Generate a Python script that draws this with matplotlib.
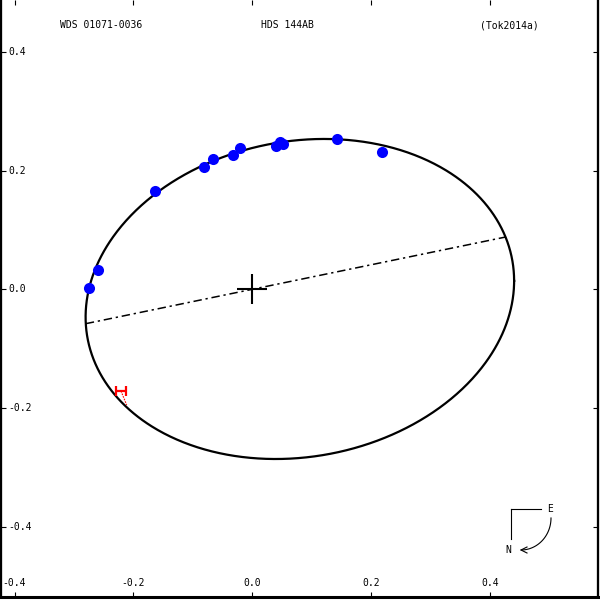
import numpy as np
import matplotlib
matplotlib.use("Agg")
import matplotlib.pyplot as plt
import matplotlib.transforms as mtransforms
from matplotlib.path import Path

# ---- data ----
title_left = "WDS 01071-0036"
title_mid = "HDS 144AB"
title_right = "(Tok2014a)"

xticks = [-0.4, -0.2, 0.0, 0.2, 0.4]
yticks = [-0.4, -0.2, 0.0, 0.2, 0.4]
xtick_labels = ["-0.4", "-0.2", "0.0", "0.2", "0.4"]
ytick_labels = ["-0.4", "-0.2", "0.0", "0.2", "0.4"]

# apparent orbit ellipse (relative to primary at origin)
ell_cx, ell_cy = 0.080, -0.0163
ell_X, ell_Y = 0.3604, 0.2694
ell_phi_deg = 83.5
node_slope = 0.2066

obs_x = [-0.275, -0.260, -0.1637, -0.0812, -0.0656, -0.033, -0.0202,
         0.0399, 0.0466, 0.0521, 0.1425, 0.2182]
obs_y = [0.002, 0.0325, 0.166, 0.2054, 0.2189, 0.2266, 0.2374,
         0.2412, 0.248, 0.2446, 0.2527, 0.2316]

h_x, h_y = [-0.2209], [-0.1712]
h_pred_x, h_pred_y = [-0.2113], [-0.1948]

# ---- figure ----
fig = plt.figure(figsize=(6, 6), dpi=100)
ax = fig.add_axes([1.1 / 600, 2.7 / 600, 596.7 / 600, 597.3 / 600])
ax.set_xlim(-0.42254, 0.58116)
ax.set_ylim(-0.51852, 0.48704)
for s in ["left", "right"]:
    ax.spines[s].set_linewidth(1.65)
ax.spines["bottom"].set_linewidth(2.2)
ax.spines["top"].set_visible(False)

ax.set_xticks(xticks)
ax.set_yticks(yticks)
ax.set_xticklabels([])
ax.set_yticklabels([])
ax.tick_params(direction="in", length=3.6, width=0.8, top=True, right=True,
               bottom=True, left=True)

mono = "DejaVu Sans Mono"
fs = 7
trans_x = mtransforms.blended_transform_factory(ax.transData, ax.transAxes)
trans_y = mtransforms.blended_transform_factory(ax.transAxes, ax.transData)
for v, lab in zip(xticks, xtick_labels):
    ax.text(v, 0.0239, lab, transform=trans_x, ha="center", va="center",
            fontsize=fs, family=mono)
for v, lab in zip(yticks, ytick_labels):
    ax.text(0.0116, v, lab, transform=trans_y, ha="left", va="center",
            fontsize=fs, family=mono)

ax.text(0.1683, 0.958, title_left, transform=ax.transAxes, ha="center",
        va="center", fontsize=fs, family=mono)
ax.text(0.4791, 0.958, title_mid, transform=ax.transAxes, ha="center",
        va="center", fontsize=fs, family=mono)
ax.text(0.8512, 0.958, title_right, transform=ax.transAxes, ha="center",
        va="center", fontsize=fs, family=mono)

# ellipse
t = np.linspace(0, 2 * np.pi, 1000)
phi = np.radians(ell_phi_deg)
ex = ell_cx + ell_X * np.cos(t)
ey = ell_cy + ell_Y * np.cos(t - phi)
ax.plot(ex, ey, color="black", lw=1.6, zorder=3)

# line of nodes: intersections of line through origin with ellipse
d = np.array([1.0, node_slope]) / np.hypot(1.0, node_slope)
cross = ex * d[1] - ey * d[0]
pts = []
for i in range(len(t) - 1):
    if np.sign(cross[i]) != np.sign(cross[i + 1]):
        f = cross[i] / (cross[i] - cross[i + 1])
        pts.append((ex[i] + f * (ex[i + 1] - ex[i]), ey[i] + f * (ey[i + 1] - ey[i])))
pts = sorted(pts)
ax.plot([pts[0][0], pts[-1][0]], [pts[0][1], pts[-1][1]], color="black",
        lw=1.1, dashes=(5.5, 2.5, 1.5, 2.5), zorder=2)

# primary
ax.plot([0], [0], marker="+", markersize=21.5, markeredgewidth=1.5,
        color="black", zorder=4)

# observations
ax.plot(obs_x, obs_y, "o", color="#0000ff", markersize=8, markeredgewidth=0,
        zorder=5)

# H observation with residual
ax.plot([h_x[0], h_pred_x[0]], [h_y[0], h_pred_y[0]], color="red", lw=0.8,
        dashes=(1.5, 1), zorder=5)
hpath = Path([(-1, -1), (-1, 1), (1, -1), (1, 1), (-1, 0), (1, 0)],
             [Path.MOVETO, Path.LINETO, Path.MOVETO, Path.LINETO,
              Path.MOVETO, Path.LINETO])
ax.plot(h_x, h_y, marker=hpath, markersize=7, markeredgewidth=1.6,
        color="red", linestyle="none", zorder=6)

# compass (figure pixel coordinates, y down)
pix = mtransforms.Affine2D().scale(1 / 600, -1 / 600).translate(0, 1) + fig.transFigure
fig.add_artist(plt.Line2D([510.5, 540.7], [509.3, 509.3], transform=pix,
                          color="black", lw=0.8))
fig.add_artist(plt.Line2D([510.5, 510.5], [509.3, 539.3], transform=pix,
                          color="black", lw=0.8))
fig.text(550, 508.5, "E", transform=pix, ha="center", va="center",
         fontsize=fs, family=mono)
fig.text(508.5, 550, "N", transform=pix, ha="center", va="center",
         fontsize=fs, family=mono)
th = np.linspace(0, np.pi / 2, 50)
cxp = 521 + 30 * np.cos(th)
cyp = 518 + 32 * np.sin(th)
fig.add_artist(plt.Line2D(cxp, cyp, transform=pix, color="black", lw=0.8))
fig.add_artist(plt.Line2D([527, 521, 527], [547, 550, 553], transform=pix,
                          color="black", lw=0.8))

fig.savefig("out.png", dpi=100)
